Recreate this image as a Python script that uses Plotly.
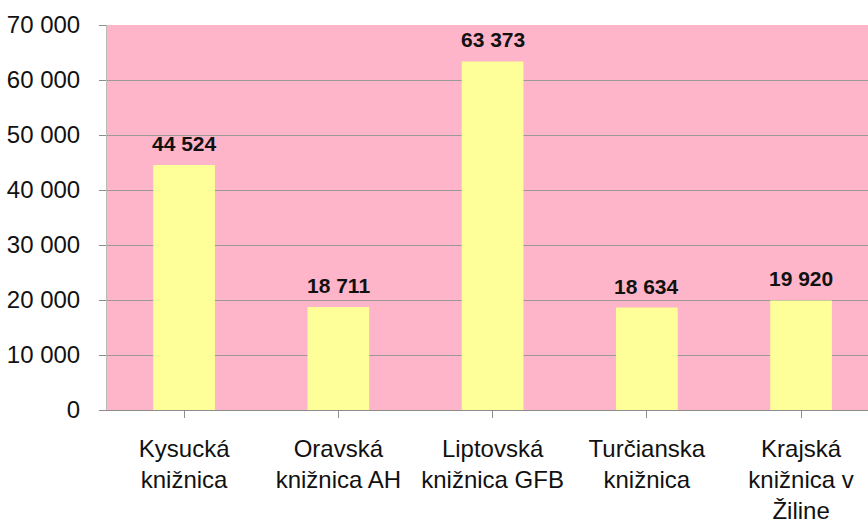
import plotly.graph_objects as go

categories = ["Kysucká<br>knižnica", "Oravská<br>knižnica AH", "Liptovská<br>knižnica GFB",
              "Turčianska<br>knižnica", "Krajská<br>knižnica v<br>Žiline"]
values = [44524, 18711, 63373, 18634, 19920]
y_ticks = [0, 10000, 20000, 30000, 40000, 50000, 60000, 70000]


def fmt(v):
    return f"{v:,}".replace(",", " ")


fig = go.Figure()
fig.add_trace(go.Bar(
    x=list(range(len(categories))), y=values, width=0.40,
    marker=dict(color="#FFFF99", line=dict(width=0)),
    hoverinfo="skip",
))
for i, v in enumerate(values):
    fig.add_annotation(x=i, y=v, text=f"<b>{fmt(v)}</b>", showarrow=False,
                       yanchor="bottom", yshift=8,
                       font=dict(family="Liberation Sans", size=21, color="#111"))

fig.update_layout(
    width=868, height=524,
    margin=dict(l=107, r=0, t=25, b=114),
    paper_bgcolor="white", plot_bgcolor="#FFB5C9",
    showlegend=False,
    font=dict(family="Liberation Sans", color="#111"),
)
fig.update_xaxes(
    range=[-0.5, 4.434],
    tickmode="array", tickvals=list(range(len(categories))), ticktext=categories,
    tickfont=dict(size=24),
    ticks="outside", ticklen=7, tickcolor="#8c8c8c", tickson="boundaries",
    showline=True, linecolor="#8c8c8c", linewidth=1,
    showgrid=False, zeroline=False, automargin=False,
    ticklabelstandoff=10,
)
fig.update_yaxes(
    range=[0, 70000], tickmode="array", tickvals=y_ticks,
    ticktext=[fmt(t) for t in y_ticks],
    tickfont=dict(size=24),
    ticks="outside", ticklen=7, tickcolor="#8c8c8c",
    showgrid=True, gridcolor="#999999", gridwidth=1,
    showline=True, linecolor="#bbbbbb", linewidth=1,
    zeroline=False, automargin=False,
    ticklabelstandoff=14,
)

fig.write_html(
    "out.html",
    config={"responsive": False, "displayModeBar": False},
    post_script="document.body.style.margin='0';document.body.style.overflow='hidden';",
)
